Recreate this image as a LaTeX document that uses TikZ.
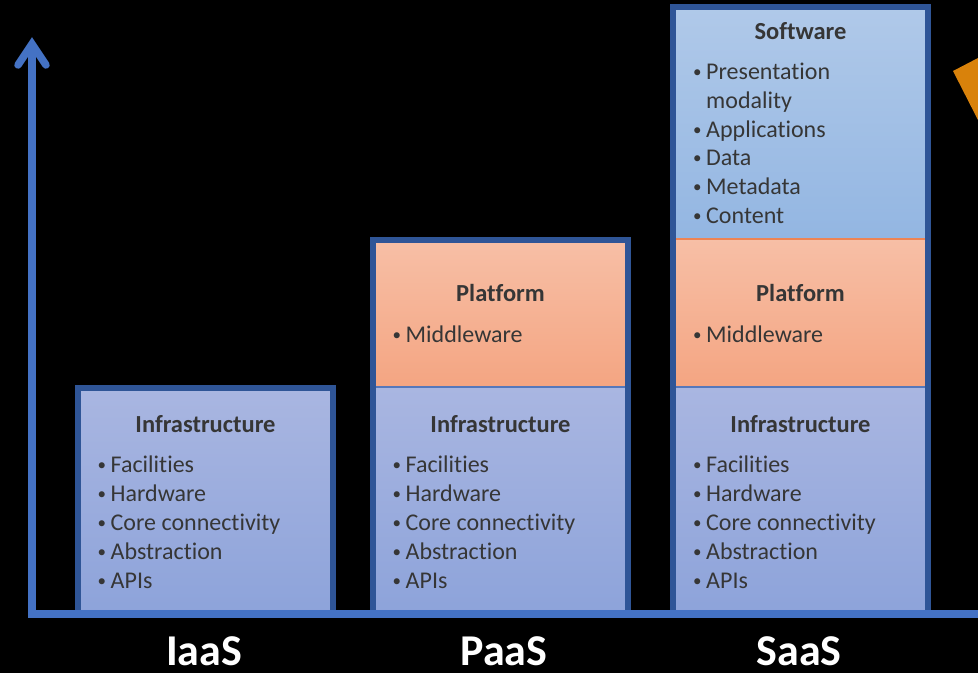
\documentclass[tikz,border=0pt]{standalone}
\usepackage{fontspec}
\setmainfont{Carlito}[Ligatures={NoCommon}]
\definecolor{axisblue}{HTML}{4472C4}
\definecolor{borderblue}{HTML}{2F5597}
\definecolor{txt}{HTML}{363636}
\definecolor{infratop}{HTML}{A9B6E1}
\definecolor{infrabot}{HTML}{8DA3DA}
\definecolor{plattop}{HTML}{F7BFA6}
\definecolor{platbot}{HTML}{F4A582}
\definecolor{softtop}{HTML}{B0C9E9}
\definecolor{softbot}{HTML}{93B6E2}
\definecolor{orangeacc}{HTML}{D9820B}
\definecolor{divblue}{HTML}{5577BB}
\definecolor{divorange}{HTML}{EE8454}
\newcommand{\bul}{\llap{\raisebox{1.5pt}{\fontsize{17}{17}\selectfont•}\hspace{4.5pt}}}
\begin{document}
\begin{tikzpicture}[x=1pt,y=-1pt,
  infra/.style={top color=infratop,bottom color=infrabot},
  plat/.style={top color=plattop,bottom color=platbot},
  soft/.style={top color=softtop,bottom color=softbot},
  boxborder/.style={draw=borderblue,line width=6pt,line join=miter},
  head/.style={font=\bfseries\fontsize{24.5}{29}\selectfont,text=txt,anchor=base,inner sep=0pt},
  item/.style={font=\fontsize{24}{29}\selectfont,text=txt,anchor=base west,inner sep=0pt},
  label/.style={font=\bfseries\fontsize{44}{52}\selectfont,text=white,anchor=base,inner sep=0pt,text depth=0pt},
  axisline/.style={draw=axisblue,line width=7.5pt}]
\useasboundingbox (0,0) rectangle (978,673);
\fill[black] (0,0) rectangle (978,673);
% orange partial shape
\fill[orangeacc] (953,71) -- (978,58) -- (978,120) -- cycle;
% Box 1
\shade[infra] (78,388) rectangle (333,614);
\draw[boxborder] (78,614) -- (78,388) -- (333,388) -- (333,614);
% Box 2
\shade[plat] (373,240) rectangle (628,387);
\shade[infra] (373,387) rectangle (628,614);
\draw[divblue,line width=1.2pt] (373,387) -- (628,387);
\draw[boxborder] (373,614) -- (373,240) -- (628,240) -- (628,614);
% Box 3
\shade[soft] (673,7) rectangle (928,239);
\shade[plat] (673,239) rectangle (928,387);
\shade[infra] (673,387) rectangle (928,614);
\draw[divorange,line width=1.2pt] (673,239) -- (928,239);
\draw[divblue,line width=1.2pt] (673,387) -- (928,387);
\draw[boxborder] (673,614) -- (673,7) -- (928,7) -- (928,614);
% axes
\coordinate (origin) at (32,614);
\coordinate (ytip) at (32,44);
\coordinate (xend) at (978,614);
\draw[axisline] (28.25,614) -- (xend);
\draw[axisline] (origin) -- (ytip);
\draw[axisline,line join=miter,line cap=round] (18,65) -- (ytip) -- (46,65);
% Box 1 text
\node[head] (h1) at (205.5,432) {Infrastructure};
\foreach \t [count=\i] in {Facilities,Hardware,Core connectivity,Abstraction,APIs}
  \node[item] (a\i) at (110.5,{472+29*(\i-1)}) {\bul\t};
% Box 2 text
\node[head] (h2) at (500.5,301) {Platform};
\node[item] (m2) at (405.5,342) {\bul Middleware};
\node[head] (h3) at (500.5,432) {Infrastructure};
\foreach \t [count=\i] in {Facilities,Hardware,Core connectivity,Abstraction,APIs}
  \node[item] (b\i) at (405.5,{472+29*(\i-1)}) {\bul\t};
% Box 3 text
\node[head] (h4) at (800.5,39) {Software};
\node[item] (s1) at (706,79) {\bul Presentation};
\node[item] (s2) at (706,108) {modality};
\node[item] (s3) at (706,137) {\bul Applications};
\node[item] (s4) at (706,165) {\bul Data};
\node[item] (s5) at (706,194) {\bul Metadata};
\node[item] (s6) at (706,223) {\bul Content};
\node[head] (h5) at (800.5,301) {Platform};
\node[item] (m3) at (706,342) {\bul Middleware};
\node[head] (h6) at (800.5,432) {Infrastructure};
\foreach \t [count=\i] in {Facilities,Hardware,Core connectivity,Abstraction,APIs}
  \node[item] (c\i) at (706,{472+29*(\i-1)}) {\bul\t};
% labels
\node[label] (iaas) at (204,665) {IaaS};
\node[label] (paas) at (504,665) {PaaS};
\node[label] (saas) at (799,665) {SaaS};
\end{tikzpicture}
\end{document}
